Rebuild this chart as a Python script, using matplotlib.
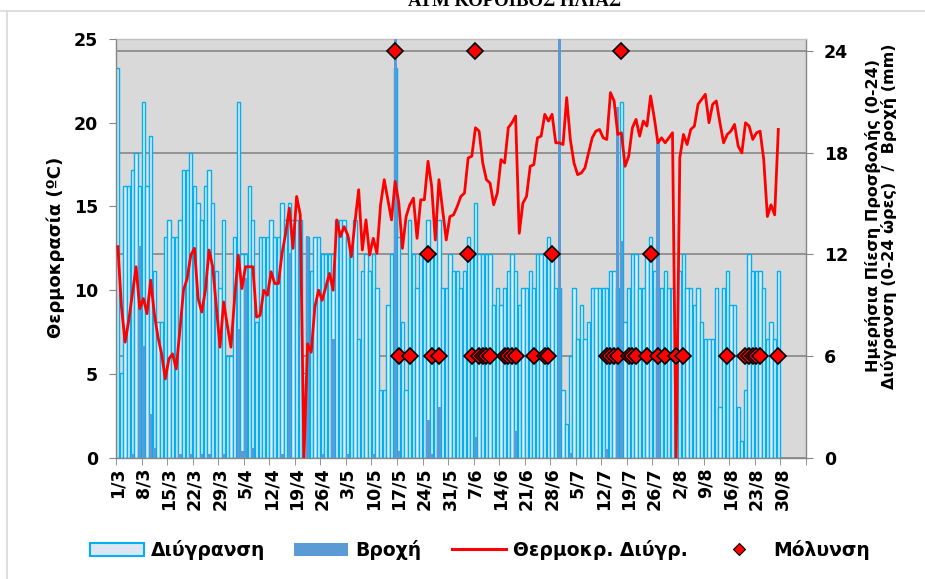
import matplotlib
matplotlib.use('Agg')
import matplotlib.pyplot as plt
import numpy as np
from matplotlib.patches import Patch
from matplotlib.lines import Line2D

plt.rcParams['font.family'] = ['DejaVu Sans']
plt.rcParams['font.weight'] = 'bold'

# ---------------- data ----------------
title = 'ΑΤΜ ΚΟΡΟΙΒΟΣ ΗΛΙΑΣ'
tick_labels = ['1/3', '8/3', '15/3', '22/3', '29/3', '5/4', '12/4', '19/4', '26/4',
               '3/5', '10/5', '17/5', '24/5', '31/5', '7/6', '14/6', '21/6', '28/6',
               '5/7', '12/7', '19/7', '26/7', '2/8', '9/8', '16/8', '23/8', '30/8']
n_categories = 189  # 1/3 ... 5/9 on the category axis

# wetness hours per day (1/3 .. 29/8)
wetness = [23, 5, 16, 16, 17, 18, 16, 21, 16, 19,
           11, 8, 8, 13, 14, 13, 13, 14, 17, 17,
           18, 16, 15, 14, 16, 17, 15, 11, 10, 14,
           6, 6, 13, 21, 12, 12, 16, 14, 8, 13,
           13, 13, 14, 13, 13, 15, 14, 15, 14, 14,
           14, 5, 13, 11, 13, 13, 12, 12, 12, 12,
           14, 14, 14, 13, 12, 14, 7, 11, 12, 11,
           12, 10, 4, 4, 9, 12, 23, 13, 8, 4,
           14, 12, 10, 12, 12, 14, 12, 12, 14, 10,
           10, 12, 11, 11, 10, 11, 13, 12, 15, 12,
           12, 12, 12, 9, 10, 9, 10, 11, 12, 11,
           9, 10, 10, 11, 10, 12, 12, 12, 13, 12,
           10, 10, 4, 2, 6, 10, 7, 9, 7, 8,
           10, 10, 10, 10, 10, 11, 11, 10, 21, 8,
           10, 12, 12, 10, 10, 12, 13, 11, 10, 10,
           11, 10, 10, 7, 11, 12, 10, 10, 9, 10,
           8, 7, 7, 7, 10, 3, 10, 11, 9, 9,
           3, 1, 4, 12, 11, 11, 11, 10, 7, 8,
           7, 11]

# rain (mm) per day
rain = [0, 0, 0, 0, 0.2, 0, 12.5, 6.6, 0, 2.6,
        0.6, 0, 0, 0, 0, 0, 0, 0.2, 0, 0,
        0.2, 0, 0, 0.2, 0, 0.2, 0, 0, 0, 0.2,
        0, 0, 0, 7.6, 0.4, 10.6, 0, 0.6, 0, 0,
        0, 0, 0, 0, 0, 0.2, 0, 12.1, 0, 0,
        0, 0, 13.1, 0, 0, 0, 0.2, 0, 0, 7.0,
        0, 0, 0, 0.2, 0, 0, 0, 0, 0, 0,
        0.2, 0, 0, 0, 0, 0, 38.0, 0.4, 0, 0,
        0, 0, 0, 0, 0, 2.2, 0.2, 0, 3.0, 0,
        0, 0, 0, 0, 0, 0, 0, 0, 1.2, 0,
        0, 0, 0, 0, 0, 0, 0, 0, 0, 1.6,
        0, 0, 0, 0, 0, 0, 0, 0, 0, 0,
        0, 30.0, 0, 0, 0.3, 0, 0, 0, 0, 0,
        0, 0, 0, 0, 0.5, 0, 0, 20.7, 12.8, 0,
        0, 0, 0, 0, 0, 0, 0, 0, 18.6, 0,
        0, 0, 0, 0, 0, 0, 0, 0, 0, 0,
        0, 0, 0, 0, 0, 0, 0, 0, 0, 0,
        0, 0, 0, 0, 0, 0, 0, 0, 0, 0,
        0, 0]

# temperature during wetness (ºC)
temperature = [12.6, 9.0, 6.9, 8.2, 9.8, 11.4, 8.9, 9.5, 8.6, 10.6,
               8.6, 7.2, 6.2, 4.7, 5.9, 6.2, 5.3, 7.6, 10.0, 10.7,
               12.1, 12.5, 9.5, 8.7, 10.0, 12.4, 11.4, 9.0, 6.6, 9.3,
               7.9, 6.6, 9.5, 12.1, 10.1, 11.4, 11.4, 11.4, 8.4, 8.5,
               10.0, 9.7, 11.1, 10.4, 10.4, 12.2, 13.4, 14.9, 12.5, 15.6,
               14.5, 0.0, 6.8, 6.3, 9.0, 10.0, 9.4, 10.2, 11.0, 10.0,
               14.2, 13.2, 13.8, 13.3, 12.0, 14.1, 16.0, 12.4, 14.2, 12.1,
               13.1, 12.2, 15.1, 16.6, 15.4, 14.2, 16.5, 15.2, 12.5, 14.4,
               15.1, 15.5, 13.1, 15.4, 15.4, 17.7, 16.2, 13.0, 16.6, 14.8,
               13.0, 14.4, 14.5, 15.0, 15.6, 15.8, 17.9, 18.0, 19.7, 19.5,
               17.6, 16.6, 16.4, 15.1, 15.8, 17.8, 17.6, 19.7, 20.0, 20.4,
               13.4, 15.2, 15.6, 17.4, 17.5, 19.1, 19.2, 20.5, 20.1, 20.5,
               18.8, 18.8, 18.7, 21.5, 19.0, 17.6, 16.9, 17.0, 17.3, 18.2,
               19.1, 19.5, 19.6, 19.1, 19.0, 21.8, 21.3, 19.3, 19.4, 17.4,
               18.0, 19.7, 20.2, 19.2, 20.1, 19.8, 21.6, 20.3, 18.8, 19.1,
               18.8, 19.1, 19.4, 0.0, 17.9, 19.3, 18.7, 19.6, 19.8, 21.1,
               21.4, 21.7, 20.0, 21.1, 21.3, 20.0, 18.8, 19.3, 19.5, 19.9,
               18.6, 18.2, 20.0, 19.8, 19.0, 19.4, 19.5, 17.8, 14.4, 15.1,
               14.5, 19.6]

# infection (daily infection pressure) : day index and value
infection_day = [76, 98, 138,
                 85, 96, 119, 146,
                 77, 80, 86, 88, 97, 99, 100, 101, 102, 106, 107, 108, 109,
                 114, 117, 118, 134, 135, 136, 137, 140, 141, 142, 145, 148,
                 150, 153, 155, 167, 172, 173, 174, 175, 176, 181]
infection_value = [24, 24, 24,
                   12, 12, 12, 12,
                   6, 6, 6, 6, 6, 6, 6, 6, 6, 6, 6, 6, 6,
                   6, 6, 6, 6, 6, 6, 6, 6, 6, 6, 6, 6,
                   6, 6, 6, 6, 6, 6, 6, 6, 6, 6]

# ---------------- figure ----------------
W, H = 925, 579
fig = plt.figure(figsize=(W / 100, H / 100), dpi=100)
L, R, T, B = 116, 805.7, 39, 457.7
ax = fig.add_axes([L / W, 1 - B / H, (R - L) / W, (B - T) / H])
ax.set_facecolor('#D9D9D9')

# temperature axis (left) and infection axis (right scale, top layer)
axT = ax.twinx()
axD = ax.twinx()

x = np.arange(len(wetness))
ax.bar(x, wetness, width=0.9, color='#DDEBF7', edgecolor='#00B0F0', linewidth=1.0, zorder=2)
ax.bar(x, rain, width=0.9, color='#5B9BD5', linewidth=0, zorder=3)
ax.set_xlim(-0.5, n_categories - 0.5)
ax.set_ylim(0, 24.7)
ax.set_yticks([0, 6, 12, 18, 24])
ax.yaxis.tick_right()
ax.yaxis.set_label_position('right')
ax.grid(axis='y', color='#808080', linewidth=1.1, zorder=0)
ax.grid(axis='x', visible=False)
ax.set_axisbelow(True)

tick_pos = np.arange(0, 7 * len(tick_labels), 7)
ax.set_xticks(tick_pos)
ax.set_xticklabels(tick_labels, rotation=90, fontsize=12.5, fontweight='bold')
ax.set_xticks(np.arange(-0.5, n_categories, 7), minor=True)
ax.tick_params(axis='x', which='major', length=0, pad=7)
ax.tick_params(axis='x', which='minor', length=5, color='#868686', direction='out')
ax.tick_params(axis='y', which='major', right=True, left=False, labelright=True, labelleft=False,
               length=5, color='#868686', direction='out', labelsize=12.5, pad=8)
for s in ax.spines.values():
    s.set_color('#868686')
    s.set_linewidth(1.0)
ax.spines['top'].set_color('#BFBFBF')

axT.plot(x, temperature, color='#FF0000', linewidth=2.0, zorder=4)
axT.set_ylim(0, 25)
axT.set_yticks([0, 5, 10, 15, 20, 25])
axT.yaxis.tick_left()
axT.yaxis.set_label_position('left')
axT.tick_params(axis='y', left=True, right=False, labelleft=True, labelright=False,
                length=5, color='#868686', direction='out', labelsize=12.5, pad=8)
for s in axT.spines.values():
    s.set_visible(False)

axD.set_ylim(ax.get_ylim())
axD.set_yticks([])
axD.tick_params(axis='y', left=False, right=False, labelleft=False, labelright=False)
axD.plot(infection_day, infection_value, linestyle='none', marker='D', markersize=8,
         markerfacecolor='#FF0000', markeredgecolor='black', markeredgewidth=1.2,
         clip_on=False, zorder=5)
for s in axD.spines.values():
    s.set_visible(False)

for a in (ax, axT):
    for lbl in a.get_yticklabels():
        lbl.set_fontweight('bold')

# axis titles
fig.text(56 / W, 1 - 247 / H, 'Θερμοκρασία (ºC)', rotation=90, ha='center', va='center',
         fontsize=13, fontweight='bold')
fig.text(881 / W, 1 - 216 / H,
         'Ημερήσια Πίεση Προσβολής (0-24)\nΔιύγρανση (0-24 ώρες)  /  Βροχή (mm)',
         rotation=90, ha='center', va='center', multialignment='center',
         fontsize=11.5, fontweight='bold', linespacing=1.0)

# title (partly cut at top as in the reference)
fig.text(515 / W, 1 - 5.5 / H, title, ha='center', va='baseline',
         family='Liberation Serif', fontweight='bold', fontsize=13.5)

# chart area border
fig.add_artist(Line2D([0, 1], [1 - 10.7 / H] * 2, color='#D9D9D9', linewidth=1.2))
fig.add_artist(Line2D([7 / W, 7 / W], [0, 1 - 10.7 / H], color='#D9D9D9', linewidth=1.2))

# legend (four entries, placed individually)
leg_y = 1 - 550 / H
entries = [
    (Patch(facecolor='#DCE6F2', edgecolor='#00B0F0', linewidth=1.5), 'Διύγρανση', 90),
    (Patch(facecolor='#5B9BD5', edgecolor='none'), 'Βροχή', 294),
    (Line2D([], [], color='#FF0000', linewidth=2.2), 'Θερμοκρ. Διύγρ.', 452),
    (Line2D([], [], linestyle='none', marker='D', markersize=6, markerfacecolor='#FF0000',
            markeredgecolor='black', markeredgewidth=0.8), 'Μόλυνση', 712),
]
for handle, label, xpos in entries:
    fig.legend([handle], [label], loc='center left', bbox_to_anchor=(xpos / W, leg_y),
               frameon=False, borderpad=0, borderaxespad=0, handlelength=2.9,
               handleheight=0.75, handletextpad=0.35,
               prop={'size': 13.5, 'weight': 'bold'})

fig.savefig('out.png', dpi=100)
